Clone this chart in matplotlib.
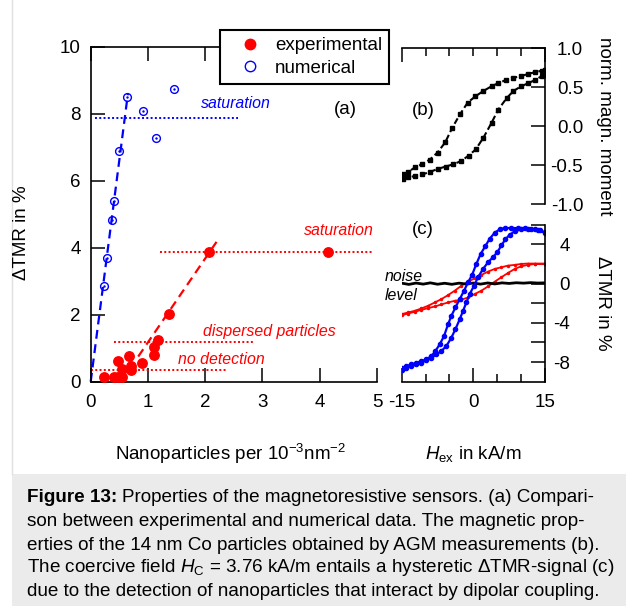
import numpy as np
import matplotlib.pyplot as plt
from matplotlib.lines import Line2D
from matplotlib.patches import Rectangle

plt.rcParams['font.family'] = ['Liberation Sans', 'DejaVu Sans']
plt.rcParams['mathtext.fontset'] = 'custom'
plt.rcParams['mathtext.rm'] = 'Liberation Sans'
plt.rcParams['mathtext.it'] = 'Liberation Sans:italic'
plt.rcParams['mathtext.bf'] = 'Liberation Sans:bold'
plt.rcParams['axes.unicode_minus'] = False

# (a) signal vs particle density
num_x = [0.24, 0.29, 0.37, 0.40, 0.50, 0.64, 0.92, 1.14, 1.45]
num_y = [2.86, 3.68, 4.83, 5.40, 6.90, 8.49, 8.08, 7.27, 8.73]
exp_x = [0.23, 0.41, 0.48, 0.54, 0.48, 0.54, 0.67, 0.70, 0.70, 0.89,
         1.11, 1.11, 1.18, 1.37, 2.07, 4.15]
exp_y = [0.15, 0.15, 0.15, 0.15, 0.63, 0.38, 0.78, 0.48, 0.35, 0.55,
         0.80, 1.03, 1.24, 2.02, 3.88, 3.88]
num_fit_x = [0.0, 0.65]
num_fit_y = [0.0, 8.6]
exp_fit_x = [0.83, 2.2]
exp_fit_y = [0.75, 4.18]
num_sat = 7.87
num_sat_span = [0.08, 2.58]
exp_levels = [3.88, 1.18, 0.35]
exp_level_start = [1.21, 0.40, 0.0]
exp_level_end = [4.93, 2.84, 2.36]

# (b) AGM loop
hb_up = [-14.8, -13.7, -12.2, -10.8, -9.1, -7.5, -5.9, -4.4, -2.8, -1.2,
         0.4, 2.1, 3.8, 5.2, 6.8, 8.4, 10.0, 11.5, 12.9, 14.3, 15.0]
mb_up = [-0.62, -0.59, -0.53, -0.49, -0.43, -0.34, -0.21, -0.02, 0.15, 0.30,
         0.38, 0.45, 0.51, 0.55, 0.59, 0.62, 0.64, 0.67, 0.69, 0.71, 0.72]
hb_dn = [-14.8, -13.6, -12.2, -10.7, -9.1, -7.5, -5.8, -4.2, -2.6, -1.0,
         0.5, 2.1, 3.8, 5.2, 7.0, 8.4, 10.0, 11.5, 12.9, 14.3, 15.0]
mb_dn = [-0.68, -0.66, -0.64, -0.62, -0.59, -0.55, -0.52, -0.49, -0.45, -0.38,
         -0.30, -0.15, 0.04, 0.21, 0.36, 0.45, 0.51, 0.55, 0.59, 0.64, 0.66]

# (c) TMR loops
cL_x = [-14.92, -14.01, -12.96, -11.92, -10.87, -9.83, -8.78, -7.94, -7.04, -6.13,
        -5.29, -4.60, -3.76, -2.85, -1.95, -1.11, -0.27, 0.63, 1.54, 2.52,
        3.42, 4.47, 5.52, 6.56, 7.96, 9.35, 10.75, 12.14, 13.54, 14.93]
cL_y = [-8.58, -8.41, -8.24, -8.07, -7.90, -7.73, -7.39, -6.87, -6.19, -5.34,
        -4.14, -3.29, -2.43, -1.58, -0.72, 0.13, 0.89, 2.01, 3.04, 3.83,
        4.58, 5.19, 5.54, 5.67, 5.67, 5.67, 5.67, 5.60, 5.43, 5.26]
cR_x = [-14.92, -14.01, -12.96, -11.92, -10.87, -9.83, -8.78, -7.73, -6.69, -5.64,
        -4.60, -3.76, -2.85, -2.15, -1.46, -0.76, 0.15, 0.98, 2.03, 3.08,
        4.12, 5.03, 5.86, 6.70, 7.61, 8.65, 10.05, 11.44, 12.84, 13.88, 14.93]
cR_y = [-8.76, -8.58, -8.41, -8.24, -8.07, -7.80, -7.56, -7.22, -6.87, -6.36,
        -5.51, -4.65, -3.63, -2.77, -1.92, -1.06, -0.21, 0.65, 1.50, 2.18,
        2.70, 3.21, 3.89, 4.51, 4.99, 5.33, 5.60, 5.60, 5.54, 5.43, 5.19]
red_x = [-15.0, -13.66, -12.27, -10.87, -9.48, -8.08, -6.69, -5.29, -3.90, -2.50,
         -1.11, 0.29, 1.68, 3.08, 4.47, 5.86, 7.26, 8.65, 10.05, 11.44, 12.84, 14.93]
redA_y = [-3.11, -2.94, -2.77, -2.53, -2.26, -1.92, -1.58, -1.17, -0.72, -0.21,
          0.20, 0.54, 0.89, 1.23, 1.50, 1.67, 1.84, 1.91, 2.01, 2.05, 2.05, 2.05]
redB_y = [-3.22, -3.05, -2.87, -2.67, -2.50, -2.33, -2.12, -1.92, -1.75, -1.64,
          -1.41, -1.06, -0.72, -0.28, 0.20, 0.65, 1.09, 1.50, 1.77, 1.91, 2.01, 2.01]
noise_x = [-15, -13.5, -12, -10.5, -9, -7.5, -6, -4.5, -3, -1.5, 0,
           1.5, 3, 4.5, 6, 7.5, 9, 10.5, 12, 13.5, 15]
noise_y = [0.05, -0.08, 0.06, -0.05, 0.08, -0.06, 0.04, -0.07, 0.05, -0.04, 0.06,
           -0.05, 0.07, -0.03, 0.08, 0.02, 0.09, 0.05, 0.1, 0.06, 0.08]

W, H = 626, 606
fig = plt.figure(figsize=(W / 100, H / 100), dpi=100)

def fx(px):
    return px / W

def fy(py):
    return 1 - py / H

fs = 13.5
ax_a = fig.add_axes([fx(90.7), fy(381.7), fx(377) - fx(90.7), fy(46.7) - fy(381.7)])
ax_b = fig.add_axes([fx(401.7), fy(204), fx(545) - fx(401.7), fy(48.1) - fy(204)])
ax_c = fig.add_axes([fx(401.7), fy(381.7), fx(545) - fx(401.7), fy(224.8) - fy(381.7)])

# ---- panel (a)
ax = ax_a
ax.plot(num_fit_x, num_fit_y, color='blue', ls=(0, (4, 2.5)), lw=1.6, clip_on=False)
ax.plot(exp_fit_x, exp_fit_y, color='red', ls=(0, (4, 2.5)), lw=1.6)
ax.plot(num_sat_span, [num_sat, num_sat], color='blue', ls=(0, (1, 1.2)), lw=1.4)
for lev, a, b in zip(exp_levels, exp_level_start, exp_level_end):
    ax.plot([a, b], [lev, lev], color='red', ls=(0, (1, 1.2)), lw=1.4, clip_on=False)
ax.plot(exp_x, exp_y, 'o', color='red', ms=6.8, mec='red', clip_on=False, zorder=4)
ax.plot(num_x, num_y, 'o', mfc='none', mec='blue', ms=5.6, mew=1.0, zorder=4)
ax.plot(num_x, num_y, '.', color='blue', ms=1.5, zorder=4)
ax.set_xlim(0, 5)
ax.set_ylim(0, 10)
ax.set_xticks([0, 1, 2, 3, 4, 5])
ax.set_yticks([0, 2, 4, 6, 8, 10])
ax.spines['right'].set_visible(False)
for s in ['left', 'bottom', 'top']:
    ax.spines[s].set_linewidth(1.2)
ax.tick_params(direction='in', length=10, width=1.1, top=True, right=False,
               labelsize=fs, pad=7)
ax.tick_params(axis='x', pad=9)

ax.text(2.54, 8.29, 'saturation', color='blue', style='italic', fontsize=11.4,
        ha='center', va='center')
ax.text(4.33, 4.51, 'saturation', color='red', style='italic', fontsize=11.4,
        ha='center', va='center')
ax.text(3.12, 1.51, 'dispersed particles', color='red', style='italic', fontsize=11.4,
        ha='center', va='center')
ax.text(2.29, 0.67, 'no detection', color='red', style='italic', fontsize=11.4,
        ha='center', va='center')

handles = [Line2D([], [], ls='none', marker='o', color='red', ms=7.5),
           Line2D([], [], ls='none', marker='o', mfc='none', mec='blue', ms=7.5, mew=1.0)]
leg = ax.legend(handles, ['experimental', 'numerical'], loc='upper left',
                bbox_to_anchor=(fx(220), fy(30)), bbox_transform=fig.transFigure,
                borderaxespad=0, fontsize=fs, frameon=True, fancybox=False,
                framealpha=1, edgecolor='black', borderpad=0.38, handlelength=2.4,
                handletextpad=0.15, labelspacing=0.3)
leg.get_frame().set_linewidth(1.5)

# ---- panel (b)
ax = ax_b
ax.plot(hb_up, mb_up, color='black', ls=(0, (3, 1.5)), lw=1.5, marker='s', ms=2.6)
ax.plot(hb_dn, mb_dn, color='black', ls=(0, (3, 1.5)), lw=1.5, marker='s', ms=2.6)
ax.set_xlim(-15, 15)
ax.set_ylim(-1, 1)
ax.spines['left'].set_visible(False)
ax.spines['bottom'].set_visible(False)
ax.spines['top'].set_linewidth(1.2)
ax.spines['right'].set_linewidth(1.2)
ax.set_xticks([-15, 15])
ax.set_xticks([-10, -5, 0, 5, 10], minor=True)
ax.set_yticks([-1.0, -0.5, 0.0, 0.5, 1.0])
ax.set_yticklabels(['-1.0', '-0.5', '0.0', '0.5', '1.0'])
ax.tick_params(axis='x', which='major', direction='in', length=10, width=1.1,
               top=True, bottom=False, labeltop=False, labelbottom=False)
ax.tick_params(axis='x', which='minor', direction='in', length=5.5, width=1.1,
               top=True, bottom=False)
ax.tick_params(axis='y', direction='in', length=10, width=1.1, left=False, right=True,
               labelleft=False, labelright=True, labelsize=fs, pad=27.5)
for t in ax.get_yticklabels():
    t.set_horizontalalignment('right')
ax.text(0.1505, 0.6, '(b)', transform=ax.transAxes, fontsize=fs, ha='center', va='center')

# ---- panel (c)
ax = ax_c
ax.plot(red_x, redA_y, color='red', lw=1.3, marker='.', ms=3)
ax.plot(red_x, redB_y, color='red', lw=1.3, marker='.', ms=3)
ax.plot(noise_x, noise_y, color='black', lw=2.0)
ax.plot(cL_x, cL_y, color='blue', lw=1.6, marker='o', ms=3.0)
ax.plot(cR_x, cR_y, color='blue', lw=1.6, marker='o', ms=3.0)
ax.set_xlim(-15, 15)
ax.set_ylim(-10, 6)
ax.spines['left'].set_visible(False)
ax.spines['top'].set_visible(False)
ax.spines['bottom'].set_linewidth(1.2)
ax.spines['right'].set_linewidth(1.2)
ax.set_xticks([-15, 0, 15])
ax.set_xticks([-10, -5, 5, 10], minor=True)
ax.set_yticks([-8, -6, -4, -2, 0, 2, 4, 6])
ax.set_yticklabels(['-8', '', '-4', '', '0', '', '4', ''])
ax.tick_params(axis='x', which='major', direction='in', length=10, width=1.1,
               labelsize=fs, pad=9, top=False)
ax.tick_params(axis='x', which='minor', direction='in', length=5.5, width=1.1, top=False)
ax.tick_params(axis='y', direction='in', length=10, width=1.1, left=False, right=True,
               labelleft=False, labelright=True, labelsize=fs, pad=18)
for t in ax.get_yticklabels():
    t.set_horizontalalignment('right')
ax.text(fx(422.5), fy(229.3), '(c)', transform=fig.transFigure, fontsize=fs,
        ha='center', va='center')

# ---- labels
fig.text(fx(345), fy(110), '(a)', fontsize=fs, ha='center', va='center')
fig.text(fx(385), fy(276.7), 'noise', fontsize=11.4, style='italic', ha='left', va='center')
fig.text(fx(385), fy(295.7), 'level', fontsize=11.4, style='italic', ha='left', va='center')
fig.text(fx(22), fy(233), 'ΔTMR in %', fontsize=fs, rotation=90, ha='center', va='center')
fig.text(fx(604), fy(126), 'norm. magn. moment', fontsize=fs, rotation=-90,
         ha='center', va='center')
fig.text(fx(602), fy(303), 'ΔTMR in %', fontsize=fs, rotation=-90, ha='center', va='center')
fig.text(fx(231), fy(454), r'Nanoparticles per 10$^{-3}$nm$^{-2}$', fontsize=fs,
         ha='center', va='center')
fig.text(fx(473), fy(454), r'$H_{\mathrm{ex}}$ in kA/m', fontsize=fs,
         ha='center', va='center')

# ---- caption box
fig.add_artist(Rectangle((fx(12), 0), 1 - fx(12), fy(474), transform=fig.transFigure,
                         facecolor='#ebebeb', edgecolor='none', zorder=0))
fig.add_artist(Line2D([fx(12), fx(12)], [fy(474), 1], transform=fig.transFigure,
                      color='#e0e0e0', lw=1))
cs = 13.6
cap_x = fx(27)
cap_rows = [498, 522, 545, 568, 592]
cap_lines = [
    'Properties of the magnetoresistive sensors. (a) Compari-',
    'son between experimental and numerical data. The magnetic prop-',
    'erties of the 14 nm Co particles obtained by AGM measurements (b).',
    r'The coercive field $H_{\mathrm{C}}$ = 3.76 kA/m entails a hysteretic ΔTMR-signal (c)',
    'due to the detection of nanoparticles that interact by dipolar coupling.',
]
r = fig.canvas.get_renderer()
tb = fig.text(cap_x, fy(cap_rows[0]), 'Figure 13:', fontsize=cs, fontweight='bold',
              ha='left', va='center')
bb = tb.get_window_extent(renderer=r)
fig.text(bb.x1 / fig.bbox.width + fx(5), fy(cap_rows[0]), cap_lines[0], fontsize=cs,
         ha='left', va='center')
for row, line in zip(cap_rows[1:], cap_lines[1:]):
    fig.text(cap_x, fy(row), line, fontsize=cs, ha='left', va='center')

fig.savefig('out.png', dpi=100)
